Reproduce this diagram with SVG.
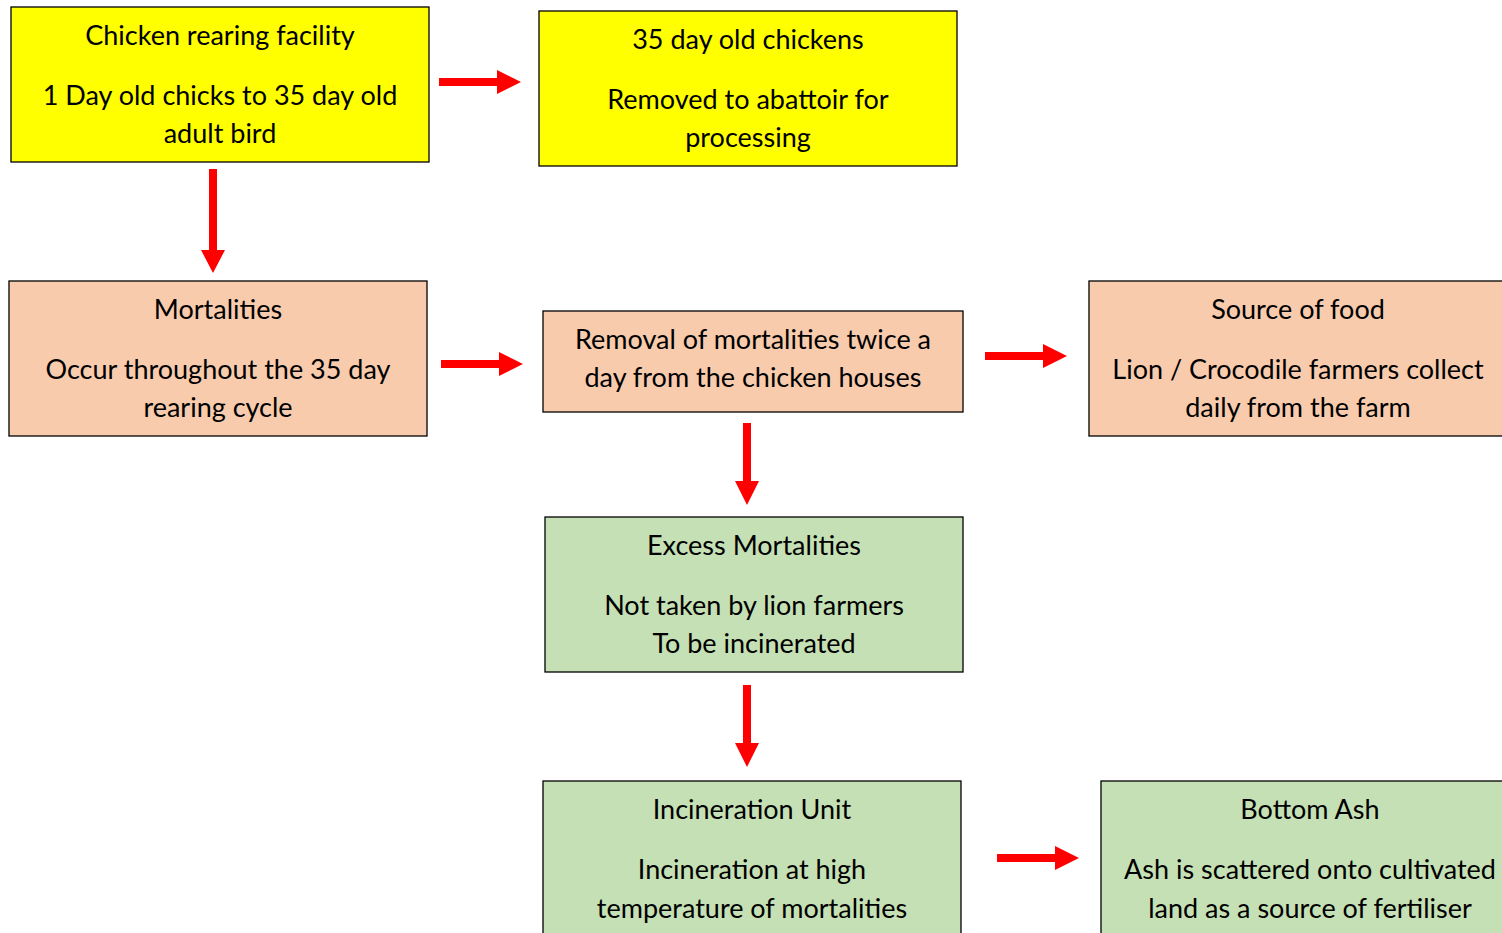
<svg xmlns="http://www.w3.org/2000/svg" width="1502" height="933" viewBox="0 0 1502 933">
<style>
.box{stroke:#000;stroke-width:1.3}
.y{fill:#FFFF00}
.p{fill:#F8CBAD}
.g{fill:#C5E0B4}
text{font-family:Lato,"Open Sans","Liberation Sans",sans-serif;font-size:27px;fill:#000;text-anchor:middle}
.arr{fill:#FF0000}
</style>
<defs>
<path id="ah" d="M0,-4 H58 V-12 L82,0 L58,12 V4 H0 Z"/>
<path id="ahl" d="M0,-4 H81 V-12 L104,0 L81,12 V4 H0 Z"/>
</defs>
<rect width="1502" height="933" fill="#fff"/>
<g id="n1"><rect class="box y" x="11" y="7" width="418" height="155"/>
<text x="220" y="45">Chicken rearing facility</text><text x="220" y="105">1 Day old chicks to 35 day old</text><text x="220" y="143">adult bird</text></g>
<g id="n2"><rect class="box y" x="539" y="11" width="418" height="155"/>
<text x="748" y="49">35 day old chickens</text><text x="748" y="109">Removed to abattoir for</text><text x="748" y="147">processing</text></g>
<g id="n3"><rect class="box p" x="9" y="281" width="418" height="155"/>
<text x="218" y="319">Mortalities</text><text x="218" y="379">Occur throughout the 35 day</text><text x="218" y="417">rearing cycle</text></g>
<g id="n4"><rect class="box p" x="543" y="311" width="420" height="101"/>
<text x="753" y="349">Removal of mortalities twice a</text><text x="753" y="387">day from the chicken houses</text></g>
<g id="n5"><rect class="box p" x="1089" y="281" width="418" height="155"/>
<text x="1298" y="319">Source of food</text><text x="1298" y="379">Lion / Crocodile farmers collect</text><text x="1298" y="417">daily from the farm</text></g>
<g id="n6"><rect class="box g" x="545" y="517" width="418" height="155"/>
<text x="754" y="555">Excess Mortalities</text><text x="754" y="615">Not taken by lion farmers</text><text x="754" y="653">To be incinerated</text></g>
<g id="n7"><rect class="box g" x="543" y="781" width="418" height="160"/>
<text x="752" y="819">Incineration Unit</text><text x="752" y="879">Incineration at high</text><text x="752" y="918">temperature of mortalities</text></g>
<g id="n8"><rect class="box g" x="1101" y="781" width="418" height="160"/>
<text x="1310" y="819">Bottom Ash</text><text x="1310" y="879">Ash is scattered onto cultivated</text><text x="1310" y="918">land as a source of fertiliser</text></g>
<g id="connectors" class="arr">
<use href="#ah" transform="translate(439,82)"/>
<use href="#ahl" transform="translate(213,169) rotate(90)"/>
<use href="#ah" transform="translate(441,364)"/>
<use href="#ah" transform="translate(985,356)"/>
<use href="#ah" transform="translate(747,423) rotate(90)"/>
<use href="#ah" transform="translate(747,685) rotate(90)"/>
<use href="#ah" transform="translate(997,858)"/>
</g>
</svg>
